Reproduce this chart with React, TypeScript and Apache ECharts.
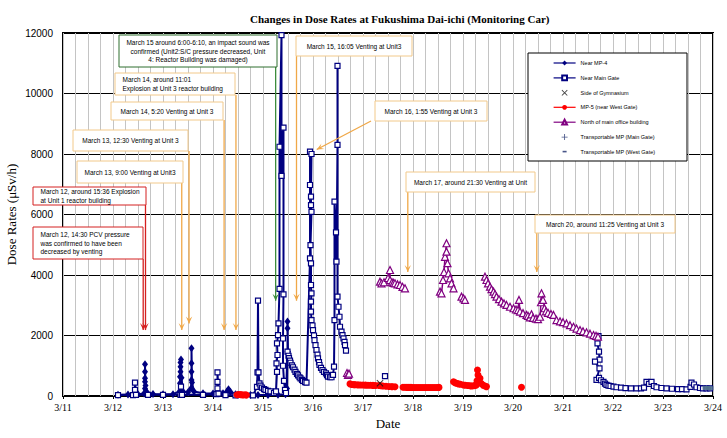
import React, { useEffect, useRef } from 'react';
import * as echarts from 'echarts';

// ---------- data (x = day of March, y = µSv/h) ----------
const dayTicks = [11, 12, 13, 14, 15, 16, 17, 18, 19, 20, 21, 22, 23, 24];
const yTicks = [0, 2000, 4000, 6000, 8000, 10000, 12000];

const seriesNames = [
  'Near MP-4',
  'Near Main Gate',
  'Side of Gymnasium',
  'MP-5 (near West Gate)',
  'North of main office building',
  'Transportable MP (Main Gate)',
  'Transportable MP (West Gate)',
];

const nearMP4Segments = [
  [[12.10, 40], [12.30, 50], [12.50, 60], [12.62, 80], [12.64, 250], [12.64, 470], [12.64, 585], [12.64, 805], [12.64, 1050], [12.65, 350], [12.68, 120], [12.80, 70], [13.00, 60], [13.20, 60], [13.33, 150], [13.34, 420], [13.34, 640], [13.35, 800], [13.35, 970], [13.35, 1110], [13.36, 1210], [13.37, 600], [13.40, 150], [13.50, 120], [13.56, 250], [13.57, 530], [13.57, 800], [13.57, 1080], [13.57, 1575], [13.58, 450], [13.62, 150], [13.80, 90], [14.00, 80], [14.20, 90], [14.28, 150], [14.31, 220], [14.35, 130], [14.45, 60], [14.50, 40]],
  [[14.75, 30], [14.90, 30], [15.10, 30], [15.30, 40], [15.45, 60], [15.48, 250], [15.49, 1465], [15.49, 2240], [15.49, 2460], [15.50, 1465]],
];

const nearMainGateSegments = [
  [[12.10, 30], [12.40, 30], [12.44, 200], [12.44, 440], [12.46, 40], [12.70, 40], [13.00, 40], [13.35, 40], [13.36, 310], [13.38, 40], [13.80, 40], [14.07, 60], [14.09, 250], [14.09, 470], [14.09, 780], [14.11, 80], [14.25, 30], [14.45, 20], [14.80, 20], [14.88, 300], [14.89, 780], [14.90, 3150], [14.91, 780], [14.93, 420], [14.95, 340], [14.98, 280], [15.02, 230], [15.05, 200], [15.10, 170], [15.15, 150], [15.22, 100], [15.26, 150], [15.28, 800], [15.27, 1080], [15.29, 1355], [15.28, 1740], [15.30, 2015], [15.31, 2400], [15.33, 3540], [15.33, 8240], [15.37, 11930], [15.37, 7280], [15.41, 8870], [15.41, 3360], [15.40, 1900], [15.40, 1000], [15.42, 500], [15.44, 200], [15.46, 100], [15.49, 1465], [15.51, 1330], [15.52, 1250], [15.54, 1170], [15.55, 1100], [15.58, 1010], [15.60, 950], [15.63, 870], [15.65, 800], [15.68, 730], [15.70, 680], [15.73, 620], [15.75, 580], [15.78, 530], [15.80, 500], [15.84, 460], [15.87, 440], [15.94, 4550], [15.94, 6975], [15.94, 8080], [15.97, 8000], [15.96, 6590], [15.96, 6310], [15.97, 6090], [15.95, 4990], [15.96, 4385], [15.96, 3670], [15.97, 3395], [15.96, 3120], [15.96, 2790], [15.97, 2510], [15.99, 2330], [16.00, 2180], [16.02, 2000], [16.03, 1850], [16.05, 1680], [16.07, 1520], [16.09, 1370], [16.10, 1245], [16.12, 1120], [16.13, 1025], [16.16, 930], [16.19, 860], [16.22, 800], [16.26, 750], [16.28, 690], [16.30, 640], [16.34, 620], [16.37, 620], [16.40, 700], [16.42, 970], [16.43, 2510], [16.43, 6425], [16.46, 5410], [16.47, 4440], [16.49, 8300], [16.49, 10910], [16.49, 3285], [16.51, 2950], [16.53, 2620], [16.54, 2290], [16.57, 2125], [16.59, 2010], [16.61, 1905], [16.63, 1790], [16.64, 1685], [16.66, 1500]],
  [[17.44, 660]],
  [[21.71, 1980], [21.69, 1740], [21.72, 1465], [21.73, 1200], [21.64, 1135], [21.73, 915], [21.67, 530], [21.72, 600], [21.76, 520], [21.81, 470], [21.84, 410], [21.87, 365], [21.91, 345], [21.95, 330], [22.01, 310], [22.07, 290], [22.16, 275], [22.25, 260], [22.36, 255], [22.47, 250], [22.56, 255], [22.62, 280], [22.67, 470], [22.72, 400], [22.77, 470], [22.82, 330], [22.87, 290], [22.97, 265], [23.07, 250], [23.18, 240], [23.30, 230], [23.38, 225], [23.47, 220], [23.55, 300], [23.57, 440], [23.62, 380], [23.67, 290], [23.74, 265], [23.80, 250], [23.87, 250], [23.94, 250]],
];

const gymnasium = [[17.34, 420]];

const mp5Segments = [
  [[14.48, 40], [14.52, 50], [14.56, 45], [14.60, 35], [14.64, 40], [14.67, 30]],
  [[16.74, 400], [16.78, 380], [16.82, 375], [16.85, 370], [16.90, 368], [16.95, 365], [17.00, 362], [17.05, 360], [17.10, 357], [17.15, 355], [17.20, 352], [17.25, 350], [17.32, 345], [17.36, 338], [17.40, 330], [17.46, 320], [17.52, 315], [17.58, 310], [17.64, 305]],
  [[17.80, 290], [17.84, 288], [17.88, 285], [17.92, 285], [17.96, 285], [18.00, 282], [18.04, 280], [18.08, 280], [18.12, 280], [18.16, 280], [18.20, 280], [18.24, 280], [18.28, 280], [18.32, 280], [18.36, 280], [18.40, 280], [18.44, 280], [18.48, 282], [18.52, 285]],
  [[18.81, 470], [18.84, 440], [18.87, 420], [18.91, 400], [18.95, 390], [19.01, 365], [19.05, 355], [19.10, 345], [19.14, 338], [19.17, 330], [19.21, 338], [19.24, 345], [19.27, 365], [19.28, 500], [19.29, 860], [19.30, 695], [19.34, 585], [19.36, 420], [19.40, 360], [19.44, 330], [19.47, 310]],
  [[20.17, 290]],
];

const northOfficeSegments = [
  [[16.68, 760], [16.70, 700], [16.72, 740]],
  [[17.34, 3780], [17.37, 3725], [17.42, 3760], [17.50, 3900], [17.54, 4165], [17.54, 3835], [17.58, 3760], [17.61, 3740], [17.64, 3725], [17.69, 3690], [17.74, 3670], [17.79, 3610], [17.84, 3560]],
  [[18.54, 3450], [18.57, 3395], [18.60, 3835], [18.62, 4100], [18.64, 4600], [18.67, 5050], [18.67, 4770], [18.69, 4390], [18.71, 4055], [18.74, 3890], [18.77, 3725], [18.81, 3560]],
  [[18.97, 3285], [19.01, 3230], [19.04, 3175]],
  [[19.44, 3945], [19.47, 3835], [19.50, 3720], [19.54, 3615], [19.57, 3530], [19.61, 3450], [19.64, 3370], [19.67, 3285], [19.72, 3200], [19.77, 3120], [19.82, 3060], [19.87, 3010], [19.94, 2950], [20.01, 2900], [20.06, 2860], [20.10, 2840], [20.12, 3175], [20.14, 2790], [20.20, 2740], [20.27, 2680], [20.30, 2650], [20.34, 2600], [20.37, 2700], [20.40, 2580], [20.46, 2560], [20.50, 2540], [20.54, 2620], [20.56, 3100], [20.57, 3395], [20.60, 3175], [20.63, 2900], [20.66, 2800], [20.70, 2750], [20.76, 2710], [20.81, 2680], [20.87, 2510], [20.94, 2470], [21.00, 2440], [21.07, 2400], [21.14, 2340], [21.21, 2290], [21.27, 2230], [21.34, 2180], [21.40, 2140], [21.47, 2105], [21.54, 2060], [21.61, 2015], [21.66, 1990], [21.70, 1960]],
];

const transportableMain: number[][] = [];
const transportableWest = [[23.86, 270], [23.90, 265], [23.94, 260]];

// events (annotation boxes)
const eventLabels = [
  ['March 15 around 6:00-6:10, an impact sound was', 'confirmed (Unit2:S/C pressure decreased, Unit', '4: Reactor Building was damaged)'],
  ['March 14, around 11:01', 'Explosion at Unit 3 reactor building'],
  ['March 14, 5:20 Venting at Unit 3'],
  ['March 13, 12:30 Venting at Unit 3'],
  ['March 13, 9:00 Venting at Unit3'],
  ['March 12, around 15:36 Explosion', 'at Unit 1 reactor building'],
  ['March 12, 14:30 PCV pressure', 'was confirmed to have been', 'decreased by venting'],
  ['March 15, 16:05 Venting at Unit3'],
  ['March 16, 1:55 Venting at Unit 3'],
  ['March 17, around 21:30 Venting at Unit'],
  ['March 20, around 11:25 Venting at Unit 3'],
];
const eventDays = [15.253, 14.459, 14.222, 13.521, 13.375, 12.65, 12.604, 15.67, 16.075, 17.896, 20.476];
const eventTipValues = [3150, 2180, 2180, 2400, 2180, 2180, 2180, 3150, 8150, 4100, 4100];

// ---------- layout / styles ----------
const GREEN = '#2f6f2f';
const RED = '#d42020';
const ORANGE_BOX = '#f2c98a';
const ORANGE_ARROW = '#f0a848';

const boxLayout = [
  { x: 119, y: 35, w: 158, h: 32, stroke: GREEN, arrow: '#3c8c3c', align: 'center' },
  { x: 115, y: 73, w: 120, h: 22, stroke: ORANGE_BOX, arrow: ORANGE_ARROW, align: 'left' },
  { x: 111, y: 102, w: 112, h: 18, stroke: ORANGE_BOX, arrow: ORANGE_ARROW, align: 'center' },
  { x: 73, y: 130, w: 115, h: 21, stroke: ORANGE_BOX, arrow: ORANGE_ARROW, align: 'center' },
  { x: 77, y: 161, w: 106, h: 22, stroke: ORANGE_BOX, arrow: ORANGE_ARROW, align: 'center' },
  { x: 33, y: 187, w: 113, h: 18, stroke: RED, arrow: RED, align: 'left' },
  { x: 33, y: 227, w: 110, h: 32, stroke: RED, arrow: RED, align: 'left' },
  { x: 296, y: 36, w: 116, h: 20, stroke: ORANGE_BOX, arrow: ORANGE_ARROW, align: 'center' },
  { x: 375, y: 101, w: 112, h: 20, stroke: ORANGE_BOX, arrow: ORANGE_ARROW, align: 'center', from: [371, 121] },
  { x: 406, y: 172, w: 129, h: 20, stroke: ORANGE_BOX, arrow: ORANGE_ARROW, align: 'center' },
  { x: 535, y: 215, w: 140, h: 18, stroke: ORANGE_BOX, arrow: ORANGE_ARROW, align: 'center' },
];
const legendBox = { x: 528, y: 53, w: 159, h: 108 };

const NAVY = '#000080';
const SANS = '"Liberation Sans", Arial, sans-serif';
const SERIF = '"Liberation Serif", "Times New Roman", serif';

const withGaps = (segs: number[][][]) => {
  const out: any[] = [];
  segs.forEach((s, i) => {
    if (i > 0) out.push(['-', '-']);
    s.forEach((p) => out.push(p));
  });
  return out;
};

const crossPath = 'path://M1,0L5,4L9,0L10,1L6,5L10,9L9,10L5,6L1,10L0,9L4,5L0,1Z';
const plusPath = 'path://M4.3,0H5.7V4.3H10V5.7H5.7V10H4.3V5.7H0V4.3H4.3Z';
const dashLegendPath = 'path://M0,0M22,6M9,2.2H13V3.8H9Z';

export default function App() {
  const ref = useRef<HTMLDivElement>(null);

  useEffect(() => {
    if (!ref.current) return;
    const chart = echarts.init(ref.current, null, { renderer: 'svg' });

    const option: any = {
      animation: false,
      backgroundColor: '#fff',
      title: {
        text: 'Changes in Dose Rates at Fukushima Dai-ichi (Monitoring Car)',
        left: 245,
        top: 8,
        textStyle: { fontFamily: SERIF, fontSize: 11, fontWeight: 'bold', color: '#000' },
      },
      legend: {
        data: seriesNames.map((n, i) =>
          i === 6 ? { name: n, icon: dashLegendPath, itemStyle: { color: '#1a2a6a' } } : { name: n }
        ),
        orient: 'vertical',
        left: legendBox.x,
        top: legendBox.y,
        padding: [7, 10, 7, 25],
        itemWidth: 22,
        itemHeight: 6,
        itemGap: 8.5,
        selectedMode: false,
        lineStyle: { width: 1.2 },
        textStyle: { fontFamily: SANS, fontSize: 5.5, color: '#000' },
        z: 20,
      },
      grid: {
        left: 63,
        right: 14,
        top: 33,
        bottom: 42,
        show: true,
        borderColor: '#000',
        borderWidth: 2,
        backgroundColor: 'transparent',
        containLabel: false,
        outerBoundsMode: 'none',
      },
      xAxis: {
        type: 'value',
        min: dayTicks[0],
        max: dayTicks[dayTicks.length - 1],
        interval: 1,
        name: 'Date',
        nameLocation: 'middle',
        nameGap: 21,
        nameMoveOverlap: false,
        nameTextStyle: { fontFamily: SERIF, fontSize: 13, color: '#000' },
        axisLine: { show: false },
        axisTick: { show: true, length: 3, lineStyle: { color: '#000' } },
        axisLabel: {
          fontFamily: SERIF,
          fontSize: 10,
          color: '#000',
          margin: 6,
          formatter: (v: number) => `3/${v}`,
        },
        splitLine: { show: true, lineStyle: { color: '#c4c4c4', width: 1 } },
        minorTick: { show: false, splitNumber: 4 },
        minorSplitLine: { show: true, lineStyle: { color: '#c4c4c4', width: 1 } },
      },
      yAxis: {
        type: 'value',
        min: yTicks[0],
        max: yTicks[yTicks.length - 1],
        interval: 2000,
        name: 'Dose Rates (μSv/h)',
        nameLocation: 'middle',
        nameGap: 45,
        nameMoveOverlap: false,
        nameTextStyle: { fontFamily: SERIF, fontSize: 13, color: '#000' },
        axisLine: { show: false },
        axisTick: { show: false },
        axisLabel: {
          fontFamily: SANS,
          fontSize: 10,
          color: '#000',
          margin: 10,
          formatter: (v: number) => String(v),
        },
        splitLine: { show: true, lineStyle: { color: '#000', width: 1 } },
      },
      series: [
        {
          name: seriesNames[0],
          type: 'line',
          data: withGaps(nearMP4Segments),
          showAllSymbol: true,
          symbol: 'diamond',
          symbolSize: [6, 8],
          lineStyle: { color: NAVY, width: 2 },
          itemStyle: { color: NAVY },
          z: 3,
        },
        {
          name: seriesNames[1],
          type: 'line',
          data: withGaps(nearMainGateSegments),
          showAllSymbol: true,
          symbol: 'rect',
          symbolSize: 5,
          lineStyle: { color: NAVY, width: 2 },
          itemStyle: { color: '#fff', borderColor: NAVY, borderWidth: 1.2 },
          z: 4,
        },
        {
          name: seriesNames[2],
          type: 'scatter',
          data: gymnasium,
          symbol: crossPath,
          symbolSize: 7,
          itemStyle: { color: '#111' },
          z: 6,
        },
        {
          name: seriesNames[3],
          type: 'line',
          data: withGaps(mp5Segments),
          showAllSymbol: true,
          symbol: 'circle',
          symbolSize: 7,
          lineStyle: { color: '#ff0000', width: 2 },
          itemStyle: { color: '#ff0000' },
          z: 5,
        },
        {
          name: seriesNames[4],
          type: 'line',
          data: withGaps(northOfficeSegments),
          showAllSymbol: true,
          symbol: 'triangle',
          symbolSize: 7,
          lineStyle: { color: '#800080', width: 1.5 },
          itemStyle: { color: '#fff', borderColor: '#800080', borderWidth: 1.2 },
          z: 5,
        },
        {
          name: seriesNames[5],
          type: 'scatter',
          data: transportableMain,
          symbol: plusPath,
          symbolSize: 8,
          itemStyle: { color: '#1a2a6a' },
          z: 6,
        },
        {
          name: seriesNames[6],
          type: 'scatter',
          data: transportableWest,
          symbol: 'rect',
          symbolSize: [7, 4],
          itemStyle: { color: '#4d6e8c' },
          z: 6,
        },
      ],
    };

    chart.setOption(option);

    const graphics: any[] = [
      {
        type: 'rect',
        z: 15,
        silent: true,
        shape: { x: legendBox.x, y: legendBox.y, width: legendBox.w, height: legendBox.h },
        style: { fill: '#fff', stroke: '#000', lineWidth: 1 },
      },
    ];
    eventDays.forEach((day, i) => {
      const L: any = boxLayout[i];
      const tip = chart.convertToPixel({ gridIndex: 0 }, [day, eventTipValues[i]]) as number[];
      const start = L.from ? L.from : [tip[0], L.y + L.h];
      graphics.push({
        type: 'line',
        z: 50,
        shape: { x1: start[0], y1: start[1], x2: tip[0], y2: tip[1] },
        style: { stroke: L.arrow, lineWidth: 1.3 },
        silent: true,
      });
      const dx = tip[0] - start[0];
      const dy = tip[1] - start[1];
      const len = Math.sqrt(dx * dx + dy * dy) || 1;
      const ux = dx / len;
      const uy = dy / len;
      const hl = 7;
      const hw = 3.2;
      const bx = tip[0] - ux * hl;
      const by = tip[1] - uy * hl;
      graphics.push({
        type: 'polygon',
        z: 51,
        shape: {
          points: [
            [tip[0], tip[1]],
            [bx - uy * hw, by + ux * hw],
            [tip[0] - ux * hl * 0.55, tip[1] - uy * hl * 0.55],
            [bx + uy * hw, by - ux * hw],
          ],
        },
        style: { fill: L.arrow },
        silent: true,
      });
      graphics.push({
        type: 'rect',
        z: 52,
        shape: { x: L.x, y: L.y, width: L.w, height: L.h },
        style: { fill: '#fff', stroke: L.stroke, lineWidth: 1 },
        silent: true,
      });
      const lines = eventLabels[i];
      const lh = 8.8;
      const cy = L.y + L.h / 2;
      lines.forEach((t, k) => {
        const y = cy + (k - (lines.length - 1) / 2) * lh;
        graphics.push({
          type: 'text',
          z: 53,
          silent: true,
          style: {
            text: t,
            x: L.align === 'center' ? L.x + L.w / 2 : L.x + 7.5,
            y,
            textAlign: L.align,
            textVerticalAlign: 'middle',
            fontFamily: SANS,
            fontSize: 6.5,
            fill: '#000',
          },
        });
      });
    });

    chart.setOption({ graphic: graphics });

    return () => {
      chart.dispose();
    };
  }, []);

  return (
    <div
      ref={ref}
      style={{ position: 'fixed', left: 0, top: 0, width: 727, height: 438, background: '#fff' }}
    />
  );
}
